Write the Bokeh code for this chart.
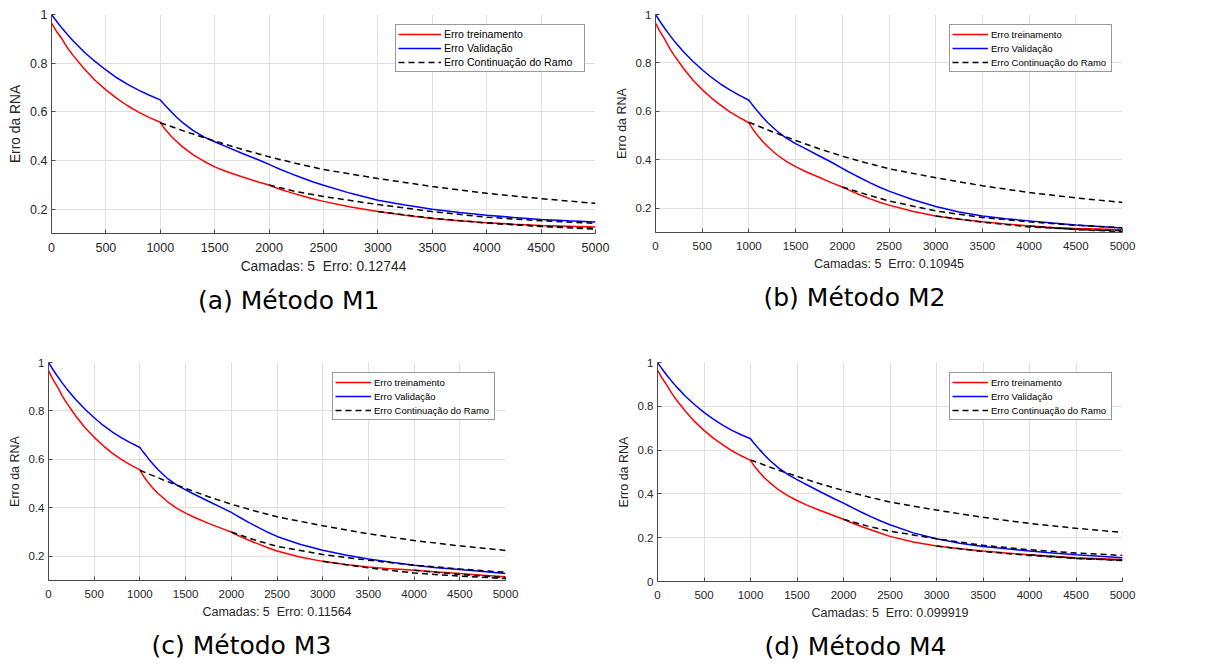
from bokeh.plotting import figure
from bokeh.layouts import column, row
from bokeh.models import Range1d, FixedTicker, CustomJSTickFormatter, Legend, LegendItem, Title
from bokeh.embed import file_html
from bokeh.resources import INLINE

# ---------------- data ----------------
epochs = [0, 50, 100, 150, 200, 300, 400, 500, 600, 700, 800, 900, 1000,
          1025, 1050, 1100, 1150, 1200, 1300, 1400, 1500, 1600, 1750, 1900, 2000,
          2050, 2100, 2200, 2300, 2400, 2500, 2750, 3000,
          3250, 3500, 3750, 4000, 4250, 4500, 4750, 5000]

treino_m1 = [0.965, 0.928, 0.897, 0.861, 0.831, 0.777, 0.730, 0.690, 0.655, 0.625, 0.599, 0.576, 0.557,
             0.540, 0.525, 0.500, 0.478, 0.458, 0.424, 0.397, 0.374, 0.356, 0.333, 0.312, 0.299,
             0.290, 0.282, 0.268, 0.255, 0.243, 0.232, 0.209, 0.190,
             0.175, 0.162, 0.152, 0.144, 0.138, 0.133, 0.130, 0.127]
valid_m1 = [1.000, 0.970, 0.942, 0.916, 0.891, 0.846, 0.807, 0.772, 0.740, 0.713, 0.689, 0.668, 0.649,
            0.636, 0.624, 0.600, 0.578, 0.558, 0.524, 0.497, 0.477, 0.458, 0.430, 0.403, 0.384,
            0.374, 0.364, 0.346, 0.329, 0.313, 0.298, 0.265, 0.237,
            0.217, 0.200, 0.186, 0.175, 0.166, 0.158, 0.152, 0.147]

treino_m2 = [0.965, 0.928, 0.897, 0.861, 0.831, 0.777, 0.730, 0.690, 0.655, 0.625, 0.597, 0.574, 0.553,
             0.537, 0.522, 0.497, 0.475, 0.455, 0.421, 0.394, 0.372, 0.353, 0.328, 0.303, 0.288,
             0.279, 0.270, 0.254, 0.239, 0.225, 0.213, 0.188, 0.168,
             0.155, 0.144, 0.135, 0.127, 0.121, 0.117, 0.114, 0.111]
valid_m2 = [1.000, 0.970, 0.942, 0.916, 0.891, 0.846, 0.807, 0.772, 0.740, 0.712, 0.688, 0.666, 0.646,
            0.633, 0.621, 0.597, 0.575, 0.554, 0.519, 0.490, 0.467, 0.447, 0.417, 0.387, 0.365,
            0.354, 0.344, 0.324, 0.305, 0.287, 0.271, 0.236, 0.207,
            0.185, 0.168, 0.157, 0.148, 0.139, 0.131, 0.125, 0.119]

treino_m3 = [0.967, 0.929, 0.898, 0.862, 0.832, 0.778, 0.731, 0.691, 0.656, 0.625, 0.599, 0.576, 0.557,
             0.540, 0.525, 0.500, 0.478, 0.459, 0.426, 0.399, 0.378, 0.360, 0.336, 0.314, 0.300,
             0.290, 0.281, 0.265, 0.250, 0.235, 0.222, 0.197, 0.179,
             0.166, 0.156, 0.148, 0.142, 0.135, 0.129, 0.122, 0.115]
valid_m3 = [1.000, 0.970, 0.942, 0.916, 0.891, 0.846, 0.807, 0.772, 0.740, 0.713, 0.689, 0.668, 0.649,
            0.636, 0.624, 0.600, 0.578, 0.557, 0.522, 0.495, 0.474, 0.455, 0.427, 0.400, 0.381,
            0.370, 0.359, 0.338, 0.318, 0.299, 0.282, 0.250, 0.225,
            0.205, 0.189, 0.175, 0.163, 0.153, 0.145, 0.137, 0.129]

treino_m4 = [0.965, 0.928, 0.897, 0.861, 0.831, 0.777, 0.730, 0.690, 0.655, 0.625, 0.597, 0.574, 0.553,
             0.537, 0.522, 0.497, 0.474, 0.454, 0.419, 0.392, 0.370, 0.350, 0.324, 0.300, 0.284,
             0.275, 0.266, 0.250, 0.235, 0.220, 0.206, 0.180, 0.162,
             0.149, 0.139, 0.130, 0.122, 0.115, 0.108, 0.104, 0.100]
valid_m4 = [1.000, 0.970, 0.942, 0.916, 0.891, 0.846, 0.807, 0.772, 0.741, 0.714, 0.690, 0.670, 0.652,
            0.638, 0.626, 0.601, 0.578, 0.556, 0.519, 0.489, 0.465, 0.443, 0.410, 0.378, 0.358,
            0.347, 0.336, 0.315, 0.295, 0.276, 0.259, 0.222, 0.195,
            0.175, 0.160, 0.149, 0.139, 0.130, 0.122, 0.115, 0.108]

# continuation of branches (dashed)
ramo1_x = [1000, 1250, 1500, 1750, 2000, 2250, 2500, 3000, 3500, 4000, 4500, 5000]
ramo1_y = [0.555, 0.516, 0.480, 0.446, 0.415, 0.388, 0.363, 0.326, 0.293, 0.265, 0.243, 0.224]
ramo2_x = [2000, 2250, 2500, 3000, 3500, 4000, 4500, 5000]
ramo3_x = [3000, 3500, 4000, 4500, 5000]
ramo4_x = [4000, 4500, 5000]

ramo2_m1 = [0.299, 0.272, 0.252, 0.219, 0.190, 0.167, 0.152, 0.142]
ramo3_m1 = [0.190, 0.163, 0.143, 0.129, 0.118]
ramo4_m1 = [0.144, 0.130, 0.121]

ramo2_m2 = [0.288, 0.258, 0.230, 0.189, 0.162, 0.144, 0.130, 0.120]
ramo3_m2 = [0.168, 0.143, 0.123, 0.113, 0.107]
ramo4_m2 = [0.127, 0.112, 0.104]

ramo2_m3 = [0.300, 0.268, 0.241, 0.207, 0.184, 0.163, 0.148, 0.134]
ramo3_m3 = [0.179, 0.152, 0.131, 0.118, 0.108]
ramo4_m3 = [0.142, 0.125, 0.112]

ramo2_m4 = [0.284, 0.254, 0.230, 0.195, 0.165, 0.145, 0.130, 0.119]
ramo3_m4 = [0.162, 0.137, 0.119, 0.105, 0.096]
ramo4_m4 = [0.122, 0.106, 0.097]

x_ticks = [0, 500, 1000, 1500, 2000, 2500, 3000, 3500, 4000, 4500, 5000]
y_ticks_a = [0.2, 0.4, 0.6, 0.8, 1.0]
y_ticks_d = [0.0, 0.2, 0.4, 0.6, 0.8, 1.0]

erros = ["0.12744", "0.10945", "0.11564", "0.099919"]
captions = ["(a) Método M1", "(b) Método M2", "(c) Método M3", "(d) Método M4"]
legend_labels = ["Erro treinamento", "Erro Validação", "Erro Continuação do Ramo"]

AX = "#262626"
FONT = "Liberation Sans"
CAP_W = 181  # approx. rendered width of a caption at 25px DejaVu Sans


def panel(treino, valid, r2, r3, r4, ylo, yt, erro, caption, fw, fh,
          bl, br, bt, bb, tick_size, lab_size, leg_size, glyph_w, label_w):
    p = figure(frame_width=fw, frame_height=fh,
               min_border_left=bl, min_border_right=br, min_border_top=bt, min_border_bottom=bb,
               x_range=Range1d(0, 5000), y_range=Range1d(ylo, 1.0),
               output_backend="svg", toolbar_location=None,
               background_fill_color="white", border_fill_color="white")
    p.outline_line_color = None

    p.xaxis.ticker = FixedTicker(ticks=x_ticks)
    p.yaxis.ticker = FixedTicker(ticks=yt)
    p.xgrid.ticker = FixedTicker(ticks=x_ticks)
    p.ygrid.ticker = FixedTicker(ticks=yt)
    p.yaxis.formatter = CustomJSTickFormatter(code="return String(Math.round(tick*10)/10)")
    for g in (p.xgrid, p.ygrid):
        g.grid_line_color = "#e0e0e0"
        g.grid_line_width = 1
    for ax in (p.xaxis, p.yaxis):
        ax.axis_line_color = "#4a4a4a"
        ax.axis_line_width = 1
        ax.major_tick_line_color = "#4a4a4a"
        ax.major_tick_in = 4
        ax.major_tick_out = 0
        ax.minor_tick_line_color = None
        ax.major_label_text_font = FONT
        ax.major_label_text_font_size = tick_size
        ax.major_label_text_color = AX
        ax.axis_label_text_font = FONT
        ax.axis_label_text_font_size = lab_size
        ax.axis_label_text_font_style = "normal"
        ax.axis_label_text_color = AX
        ax.axis_label_standoff = 4
    p.xaxis.major_label_standoff = 9
    p.yaxis.major_label_standoff = 4
    p.xaxis.axis_label = "Camadas: 5\u00a0 Erro: " + erro
    p.yaxis.axis_label = "Erro da RNA"

    r_red = p.line(epochs, treino, line_color="#ff0000", line_width=1.5)
    r_blue = p.line(epochs, valid, line_color="#0000ff", line_width=1.5)
    dash = dict(line_color="black", line_width=1.5, line_dash="6 4")
    r_d1 = p.line(ramo1_x, ramo1_y, **dash)
    p.line(ramo2_x, r2, **dash)
    p.line(ramo3_x, r3, **dash)
    p.line(ramo4_x, r4, **dash)

    leg = Legend(items=[LegendItem(label=legend_labels[0], renderers=[r_red]),
                        LegendItem(label=legend_labels[1], renderers=[r_blue]),
                        LegendItem(label=legend_labels[2], renderers=[r_d1])],
                 location="top_right", margin=10, padding=2, spacing=0,
                 glyph_width=glyph_w, glyph_height=14, label_height=14, label_width=label_w,
                 label_standoff=3,
                 label_text_font=FONT, label_text_font_size=leg_size,
                 label_text_color="black",
                 border_line_color="#333333", border_line_width=1,
                 background_fill_color="white", background_fill_alpha=1.0)
    p.add_layout(leg)

    cap = Title(text=caption, align="left", offset=fw / 2 - 35 - CAP_W / 2,
                text_font="DejaVu Sans", text_font_size="25px", text_font_style="normal",
                text_color="black", standoff=14)
    p.add_layout(cap, "below")
    return p


fa = panel(treino_m1, valid_m1, ramo2_m1, ramo3_m1, ramo4_m1, 0.1, y_ticks_a, erros[0], captions[0],
           544, 219, 51, 16, 13, 87, "12.5px", "13.8px", "10.6px", 43, 138)
fb = panel(treino_m2, valid_m2, ramo2_m2, ramo3_m2, ramo4_m2, 0.1, y_ticks_a, erros[1], captions[1],
           467, 218, 41, 95, 14, 87, "11.5px", "12.5px", "9.5px", 36, 118)
fc = panel(treino_m3, valid_m3, ramo2_m3, ramo3_m3, ramo4_m3, 0.1, y_ticks_a, erros[2], captions[2],
           457, 218, 48, 16, 42, 84, "11.5px", "12.5px", "9.5px", 36, 118)
fd = panel(treino_m4, valid_m4, ramo2_m4, ramo3_m4, ramo4_m4, 0.0, y_ticks_d, erros[3], captions[3],
           465, 219, 136, 92, 42, 83, "11.5px", "12.5px", "9.5px", 36, 118)

layout = column(row(fa, fb), row(fc, fd))

with open("out.html", "w") as f:
    f.write(file_html(layout, INLINE))
